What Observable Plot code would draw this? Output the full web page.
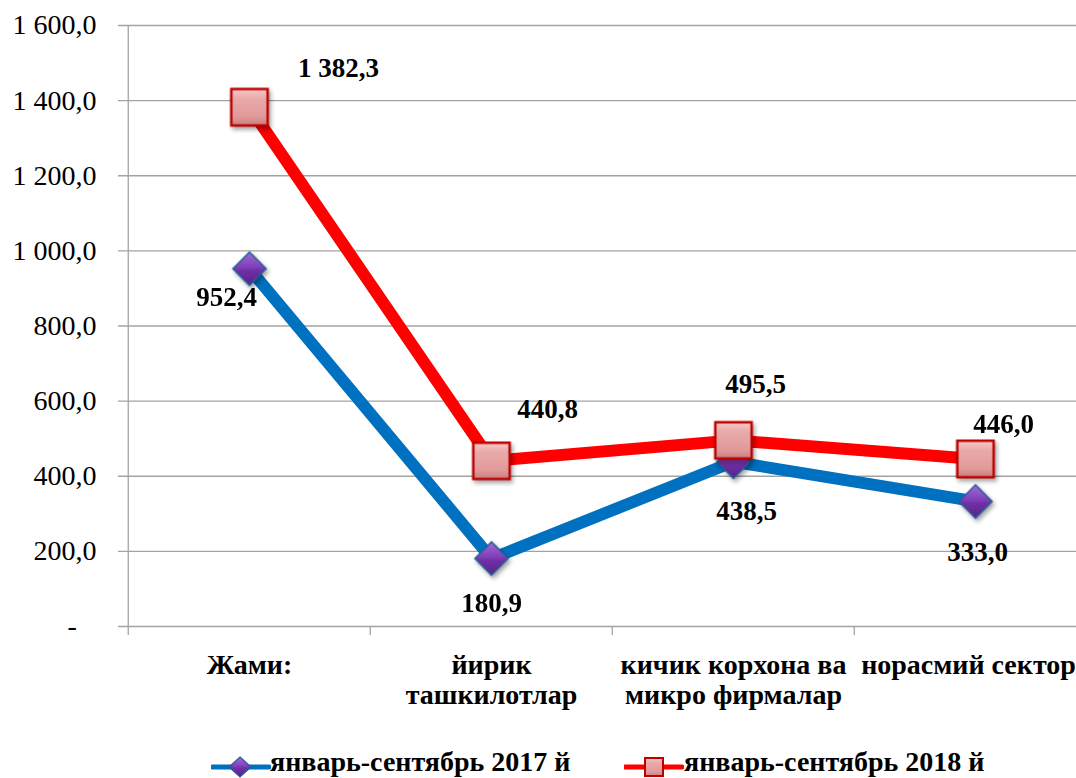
<!DOCTYPE html>
<html><head><meta charset="utf-8">
<script src="https://cdn.jsdelivr.net/npm/d3@7"></script>
<script src="https://cdn.jsdelivr.net/npm/@observablehq/plot@0.6"></script>
<style>
html,body{margin:0;padding:0;background:#fff;width:1076px;height:778px;overflow:hidden;}
#wrap{position:relative;width:1076px;height:778px;overflow:hidden;}
#chart{position:absolute;left:0;top:0;width:1100px;}
#chart svg{max-width:none !important;}
#chart svg, #chart svg g, #chart svg text, #chart svg tspan{font-family:"Liberation Serif","Times New Roman",Times,serif !important;}
.leg{position:absolute;font-weight:bold;font-size:28px;line-height:30px;font-family:"Liberation Serif","Times New Roman",Times,serif;color:#000;white-space:nowrap;}
</style></head><body>
<div id="wrap"><div id="chart"></div><div id="legend"></div></div>
<script>
const categories = ["Жами:", "йирик\nташкилотлар", "кичик корхона ва\nмикро фирмалар", "норасмий сектор"];
const seriesNames = ["январь-сентябрь 2017 й", "январь-сентябрь 2018 й"];
const values2017 = [952.4, 180.9, 438.5, 333.0];
const values2018 = [1382.3, 440.8, 495.5, 446.0];
const yTicks = [0, 200, 400, 600, 800, 1000, 1200, 1400, 1600];

// label offsets (layout, px)
const off2017 = [[-23, 29], [0, 45], [13, 50], [2, 51]];
const off2018 = [[89, -39], [56, -52], [22, -56], [28, -35]];

const loc = d3.formatLocale({decimal: ",", thousands: "\u00a0", grouping: [3], currency: ["", ""]});
const fmt = loc.format(",.1f");
const yFmt = d => d === 0 ? "-\u2002\u2009" : fmt(d);

const rows2017 = categories.map((c, i) => ({cat: c, v: values2017[i], s: seriesNames[0]}));
const rows2018 = categories.map((c, i) => ({cat: c, v: values2018[i], s: seriesNames[1]}));

const W = 1100, H = 778, mL = 127, mR = 3, mT = 25, mB = 152;
const bw = (W - mL - mR) / categories.length;
const serif = "Liberation Serif";
const grid = "#a3a3a3";

const labelMarks = [];
rows2017.forEach((r, i) => labelMarks.push(Plot.text([r], {x: "cat", y: "v", text: d => fmt(d.v), dx: off2017[i][0], dy: off2017[i][1], fontSize: 27, fontWeight: "bold", fill: "#000"})));
rows2018.forEach((r, i) => labelMarks.push(Plot.text([r], {x: "cat", y: "v", text: d => fmt(d.v), dx: off2018[i][0], dy: off2018[i][1], fontSize: 27, fontWeight: "bold", fill: "#000"})));

const catText = {y: 0, dy: 26, lineAnchor: "top", lineHeight: 1.07, fontSize: 28, fontWeight: "bold", fill: "#000"};
const lastCat = categories[categories.length - 1];

const chart = Plot.plot({
  width: W, height: H,
  marginLeft: mL, marginRight: mR, marginTop: mT, marginBottom: mB,
  style: {fontFamily: serif, background: "#fff", overflow: "visible", maxWidth: "none"},
  x: {type: "band", domain: categories, padding: 0, axis: null},
  y: {domain: [0, 1600], axis: null},
  marks: [
    Plot.ruleY(yTicks, {stroke: grid, strokeWidth: 1.3, insetLeft: -9}),
    Plot.ruleX(categories, {x: d => d, y1: d => d === categories[0] ? 1600 : 0, y2: -24, dx: -bw / 2, stroke: grid, strokeWidth: 1.3}),
    Plot.axisY({ticks: yTicks, tickSize: 0, tickPadding: 31, tickFormat: yFmt, fontSize: 28, fill: "#000", label: null}),
    Plot.text(categories.slice(0, -1), {x: d => d, ...catText}),
    Plot.text([lastCat], {x: d => d, ...catText, dx: -7}),
    Plot.line(rows2017, {x: "cat", y: "v", stroke: "#0070C0", strokeWidth: 12, strokeLinejoin: "miter"}),
    Plot.line(rows2018, {x: "cat", y: "v", stroke: "#FF0000", strokeWidth: 12, strokeLinejoin: "miter"}),
    Plot.dot(rows2017, {x: "cat", y: "v", symbol: "diamond2", r: 15, fill: "url(#dmGrad)", stroke: "#215f9a", strokeWidth: 1.5}),
    Plot.dot(rows2018, {x: "cat", y: "v", symbol: "square", r: 20.5, fill: "url(#sqGrad)", stroke: "#C00000", strokeWidth: 2.5}),
    ...labelMarks
  ]
});

const defs = d3.select(chart).insert("defs", ":first-child");
function grad(id, stops) {
  const g = defs.append("linearGradient").attr("id", id).attr("x1", 0).attr("y1", 0).attr("x2", 0).attr("y2", 1);
  stops.forEach(([o, c]) => g.append("stop").attr("offset", o).attr("stop-color", c));
}
grad("sqGrad", [[0, "#f6caca"], [0.25, "#eaaaaa"], [0.75, "#e29a9a"], [1, "#c98080"]]);
grad("dmGrad", [[0, "#a46ad8"], [0.45, "#8040b8"], [0.55, "#7030a8"], [1, "#5a2088"]]);
d3.select(chart).selectAll('g[aria-label="dot"]').style("filter", "drop-shadow(2px 3px 2px rgba(0,0,0,0.35))");

document.getElementById("chart").appendChild(chart);

// legend
const leg = document.getElementById("legend");
const legendItems = [
  {name: seriesNames[0], color: "#0070C0", x: 211, tx: 270, sym: "diamond"},
  {name: seriesNames[1], color: "#FF0000", x: 624, tx: 684, sym: "square"}
];
legendItems.forEach(it => {
  const s = document.createElementNS("http://www.w3.org/2000/svg", "svg");
  s.setAttribute("width", 60); s.setAttribute("height", 30);
  s.style.position = "absolute"; s.style.left = it.x + "px"; s.style.top = "752px";
  let shape;
  if (it.sym === "diamond") {
    shape = `<polygon points="29,5 40,15 29,25 18,15" fill="url(#dmGrad)" stroke="#215f9a" stroke-width="1.2"/>`;
  } else {
    shape = `<rect x="21" y="6" width="18" height="18" fill="url(#sqGrad)" stroke="#C00000" stroke-width="2"/>`;
  }
  s.innerHTML = `<line x1="1" x2="58" y1="15" y2="15" stroke="${it.color}" stroke-width="5" stroke-linecap="round"/>` + shape;
  leg.appendChild(s);
  const t = document.createElement("div");
  t.className = "leg"; t.textContent = it.name;
  t.style.left = it.tx + "px"; t.style.top = "747px";
  leg.appendChild(t);
});
</script>
</body></html>
